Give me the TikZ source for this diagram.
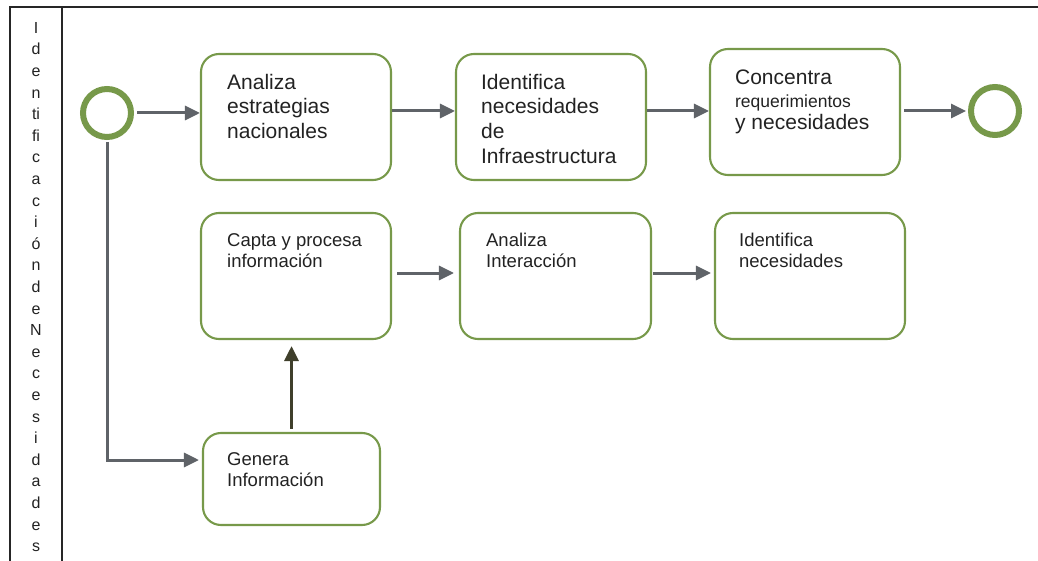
\documentclass[tikz,border=0pt]{standalone}
\usepackage{fontspec}
\setmainfont{Liberation Sans}
\usetikzlibrary{arrows.meta}
\definecolor{bpmgreen}{HTML}{77994A}
\definecolor{flowgray}{HTML}{5F6368}
\definecolor{flowdark}{HTML}{3F3F2B}
\definecolor{txtgray}{HTML}{222222}
\tikzset{
  >={Triangle[length=15pt,width=14pt]},
  task/.style={draw=bpmgreen,line width=2.1pt,rounded corners=18pt,
    minimum width=190pt,minimum height=126pt,inner sep=0pt},
  event/.style={circle,draw=bpmgreen,line width=6pt,minimum size=48pt,inner sep=0pt},
  bigtxt/.style={anchor=north west,inner sep=0pt,align=left,text=txtgray,
    font=\fontsize{21}{24.6}\selectfont},
  smalltxt/.style={anchor=north west,inner sep=0pt,align=left,text=txtgray,
    font=\fontsize{18.5}{21}\selectfont},
  flow/.style={->,draw=flowgray,line width=3pt}
}
\begin{document}
\begin{tikzpicture}[x=1pt,y=-1pt]
  \useasboundingbox (0,0) rectangle (1038,561);
  \draw[line width=1.8pt,draw=black!85] (10,561)--(10,7)--(1038,7);
  \draw[line width=1.8pt,draw=black!85] (62,7)--(62,561);
  \node[anchor=north,inner sep=0pt,align=center,text=txtgray,
    font=\fontsize{16}{21.6}\selectfont] (lane) at (36,22)
    {I\\d\\e\\n\\ti\\fi\\c\\a\\c\\i\\ó\\n\\d\\e\\N\\e\\c\\e\\s\\i\\d\\a\\d\\e\\s};

  \node[event] (s) at (107,113) {};
  \node[event] (e) at (995,111) {};

  \node[task] (ana) at (296,117) {};
  \node[task] (ide) at (551,117) {};
  \node[task] (con) at (805,112) {};
  \node[task] (cap) at (296,276) {};
  \node[task,minimum width=191pt] (int) at (555.5,276) {};
  \node[task] (nec) at (810,276) {};
  \node[task,minimum width=177pt,minimum height=92pt] (gen) at (291.5,479) {};

  \node[bigtxt] (ana-t) at ([shift={(27,21)}]ana.north west)
    {Analiza\\estrategias\\nacionales};
  \node[bigtxt] (ide-t) at ([shift={(26,21)}]ide.north west)
    {Identifica\\necesidades\\de\\Infraestructura};
  \node[bigtxt,font=\fontsize{21}{22.5}\selectfont] (con-t) at ([shift={(26,22)}]con.north west)
    {Concentra\\{\fontsize{17.5}{22.5}\selectfont requerimientos}\\y necesidades};
  \node[smalltxt] (cap-t) at ([shift={(27,21)}]cap.north west)
    {Capta y procesa\\información};
  \node[smalltxt] (int-t) at ([shift={(27,21)}]int.north west)
    {Analiza\\Interacción};
  \node[smalltxt] (nec-t) at ([shift={(25,21)}]nec.north west)
    {Identifica\\necesidades};
  \node[smalltxt] (gen-t) at ([shift={(25,20)}]gen.north west)
    {Genera\\Información};

  \draw[flow,shorten <=3pt] (s.east) -- (s.east -| ana.west);
  \draw[flow] ([yshift=6pt]ana.east) -- ([yshift=6pt]ana.east -| ide.west);
  \draw[flow] ([yshift=6pt]ide.east) -- ([yshift=6pt]ide.east -| con.west);
  \draw[flow,shorten <=3pt,shorten >=2pt] ([yshift=1pt]con.east) -- ([yshift=1pt]con.east -| e.west);
  \draw[flow,shorten <=5pt,shorten >=5pt] ([yshift=3pt]cap.east) -- ([yshift=3pt]cap.east -| int.west);
  \draw[flow,shorten <=1pt,shorten >=3pt] ([yshift=3pt]int.east) -- ([yshift=3pt]int.east -| nec.west);
  \draw[flow,draw=flowdark,shorten <=3pt,shorten >=6pt] (gen.north) -- (gen.north |- cap.south);
  \draw[flow,shorten <=2pt,shorten >=3pt] (s.south) |- ([yshift=19pt]gen.west);
\end{tikzpicture}
\end{document}
